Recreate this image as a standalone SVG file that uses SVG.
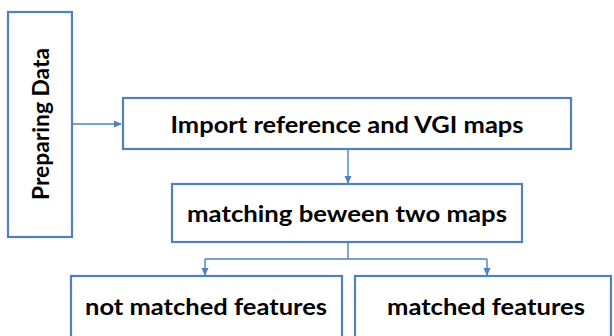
<svg xmlns="http://www.w3.org/2000/svg" width="614" height="336" viewBox="0 0 614 336">
<style>
.box{fill:#fff;stroke:#4f81bd;stroke-width:2.2}
.t{font-family:Lato,"Liberation Sans",sans-serif;font-weight:bold;font-size:23px;fill:#000}
.c{fill:none;stroke:#4f81bd;stroke-width:1.4}
</style>
<defs>
<marker id="ah" markerWidth="8" markerHeight="8" refX="7" refY="4" orient="auto" markerUnits="userSpaceOnUse">
<path d="M0,0.5 L8,4 L0,7.5 Z" fill="#4f81bd"/>
</marker>
</defs>
<rect width="614" height="336" fill="#fff"/>
<g id="connectors">
<path class="c" d="M72,124 H121" marker-end="url(#ah)"/>
<path class="c" d="M348,149 V183" marker-end="url(#ah)"/>
<path class="c" d="M348,242 V259 M205,259 H487"/>
<path class="c" d="M205,259 V275" marker-end="url(#ah)"/>
<path class="c" d="M487,259 V275" marker-end="url(#ah)"/>
</g>
<g id="prep">
<rect class="box" x="8" y="12" width="64" height="225"/>
<text class="t" transform="translate(49,124) rotate(-90)" text-anchor="middle" textLength="152" lengthAdjust="spacingAndGlyphs">Preparing Data</text>
</g>
<g id="import">
<rect class="box" x="123" y="98" width="448" height="51"/>
<text class="t" x="347" y="133" text-anchor="middle" textLength="353" lengthAdjust="spacingAndGlyphs">Import reference and VGI maps</text>
</g>
<g id="matching">
<rect class="box" x="172" y="184" width="350" height="58"/>
<text class="t" x="347" y="222" text-anchor="middle" textLength="320" lengthAdjust="spacingAndGlyphs">matching beween two maps</text>
</g>
<g id="notmatched">
<rect class="box" x="71" y="276" width="271" height="80"/>
<text class="t" x="206" y="315" text-anchor="middle" textLength="242" lengthAdjust="spacingAndGlyphs">not matched features</text>
</g>
<g id="matched">
<rect class="box" x="355" y="276" width="256" height="80"/>
<text class="t" x="486" y="315" text-anchor="middle" textLength="198" lengthAdjust="spacingAndGlyphs">matched features</text>
</g>
</svg>
